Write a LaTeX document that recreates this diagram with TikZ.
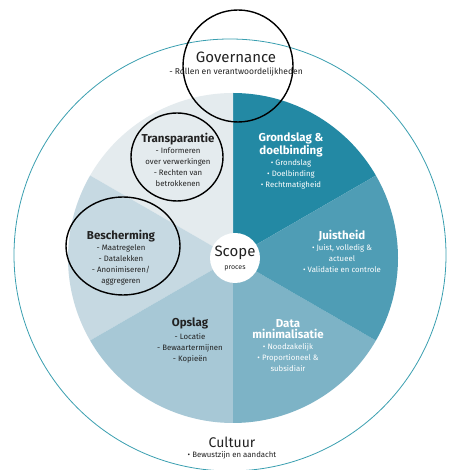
\documentclass[tikz,border=0pt]{standalone}
\usepackage{fontspec}
\setmainfont{Fira Sans}
\definecolor{cGron}{HTML}{2389A4}
\definecolor{cJuis}{HTML}{4F9DB5}
\definecolor{cData}{HTML}{7DB3C6}
\definecolor{cOpsl}{HTML}{A7C8D6}
\definecolor{cBesc}{HTML}{C6D9E2}
\definecolor{cTran}{HTML}{E4EBEE}
\definecolor{cRing}{HTML}{3A9FB0}
\definecolor{cTxt}{HTML}{222222}
\newcommand\ttl[1]{{\fontsize{11.5}{13.5}\selectfont\bfseries #1}}
\tikzset{
  blk/.style={align=center, font=\fontsize{7.8}{11}\selectfont, inner sep=0pt, text=cTxt},
  wblk/.style={blk, text=white},
  hand/.style={draw=black, line width=1.4pt},
}
\begin{document}
\begin{tikzpicture}[x=1pt,y=1pt]
\useasboundingbox (0,0) rectangle (452,470);
\fill[white] (0,0) rectangle (452,470);
% outer ring
\coordinate (oc) at (230,215);
\draw[cRing, line width=0.8pt] (oc) circle[radius=216];
% pie
\coordinate (c) at (233,212);
\def\R{165}
\fill[cGron] (c) -- ++(30:\R) arc[start angle=30, end angle=90, radius=\R] -- cycle;
\fill[cTran] (c) -- ++(90:\R) arc[start angle=90, end angle=150, radius=\R] -- cycle;
\fill[cBesc] (c) -- ++(150:\R) arc[start angle=150, end angle=210, radius=\R] -- cycle;
\fill[cOpsl] (c) -- ++(210:\R) arc[start angle=210, end angle=270, radius=\R] -- cycle;
\fill[cData] (c) -- ++(270:\R) arc[start angle=270, end angle=330, radius=\R] -- cycle;
\fill[cJuis] (c) -- ++(-30:\R) arc[start angle=-30, end angle=30, radius=\R] -- cycle;
% scope
\node[circle, fill=white, minimum size=50pt, inner sep=0pt] (scope) at (235,212) {};
\node[font=\fontsize{15}{15}\selectfont, text=cTxt, inner sep=0pt] (scopet) at (235,217) {Scope};
\node[font=\fontsize{7}{7}\selectfont, text=cTxt, inner sep=0pt] (procest) at (235,202) {proces};
% texts
\node[blk, anchor=north] (tran) at (178,337) {\ttl{Transparantie}\\[0pt] - Informeren\\ over verwerkingen\\ - Rechten van\\ betrokkenen};
\node[wblk, anchor=north] (gron) at (291,337) {\ttl{Grondslag \&}\\ \ttl{doelbinding}\\[0pt] • Grondslag\\ • Doelbinding\\ • Rechtmatigheid};
\node[wblk, anchor=north] (juis) at (342,240) {\ttl{Juistheid}\\[0pt] • Juist, volledig \&\\ actueel\\ • Validatie en controle};
\node[blk, anchor=north] (besc) at (121,240) {\ttl{Bescherming}\\[0pt] - Maatregelen\\ - Datalekken\\ - Anonimiseren/\\ aggregeren};
\node[blk, anchor=north] (opsl) at (190,152) {\ttl{Opslag}\\[2pt] - Locatie\\ - Bewaartermijnen\\ - Kopieën};
\node[wblk, anchor=north] (data) at (288,151) {\ttl{Data}\\ \ttl{minimalisatie}\\[0pt] • Noodzakelijk\\ • Proportioneel \&\\ subsidiair};
% governance & cultuur
\node[font=\fontsize{15}{15}\selectfont, text=cTxt, inner sep=0pt] (gov) at (236,413) {Governance};
\node[font=\fontsize{8.5}{8.5}\selectfont, text=cTxt, inner sep=0pt] (govs) at (236,398) {- Rollen en verantwoordelijkheden};
\node[font=\fontsize{14}{14}\selectfont, text=cTxt, inner sep=0pt] (cul) at (232,28) {Cultuur};
\node[font=\fontsize{7.8}{7.8}\selectfont, text=cTxt, inner sep=0pt] (culs) at (232,15) {• Bewustzijn en aandacht};
% hand-drawn circles
\draw[hand] (238,404) ellipse[x radius=55, y radius=56];
\draw[hand] (177,313) ellipse[x radius=46, y radius=44];
\draw[hand] (123,224) ellipse[x radius=57, y radius=49];
\end{tikzpicture}
\end{document}
